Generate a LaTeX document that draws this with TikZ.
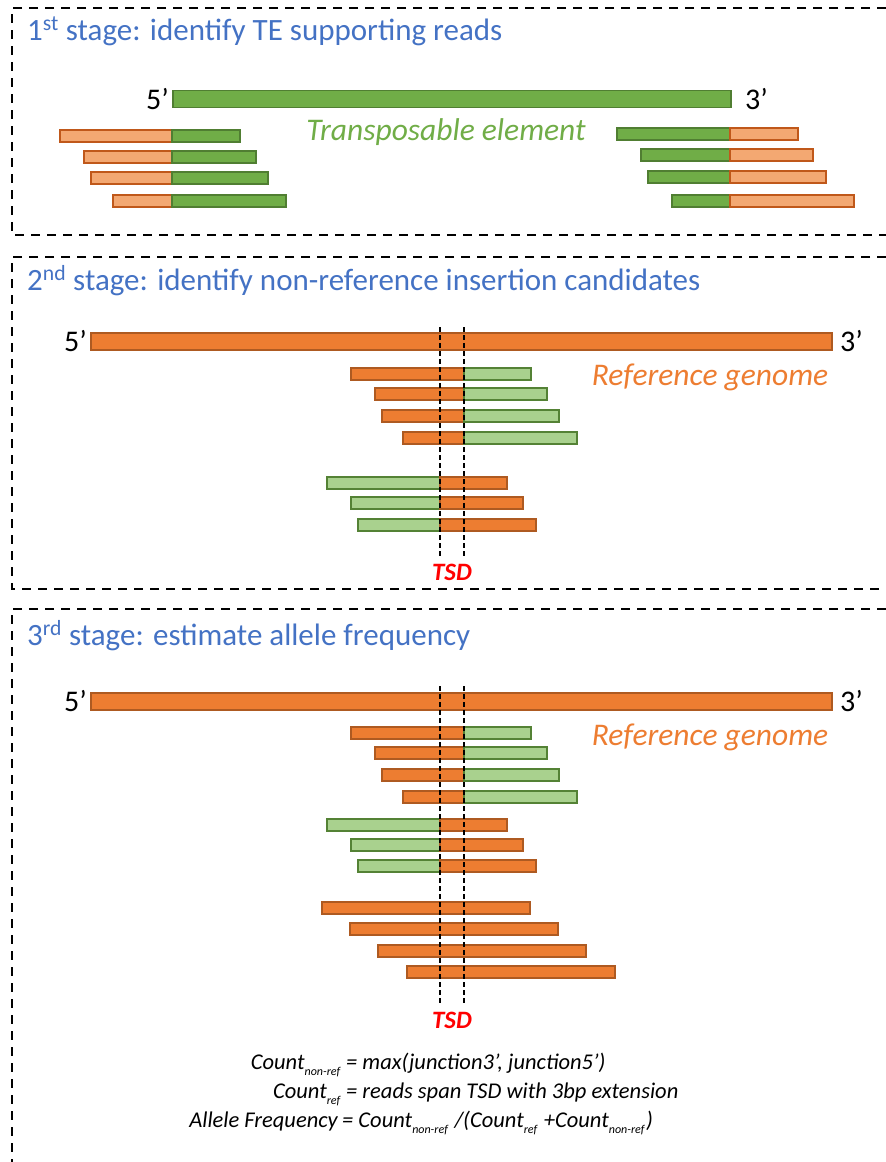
\documentclass[tikz,border=0pt]{standalone}
\usepackage{fontspec}
\setmainfont{Carlito}
\usetikzlibrary{positioning}
\definecolor{stageblue}{HTML}{4472C4}
\definecolor{tegreen}{HTML}{70AD47}
\definecolor{tedark}{HTML}{507E32}
\definecolor{telight}{HTML}{A9D18E}
\definecolor{telightdark}{HTML}{548235}
\definecolor{reforange}{HTML}{ED7D31}
\definecolor{refdark}{HTML}{AE5A21}
\definecolor{reflight}{HTML}{F3A872}
\definecolor{reflightdark}{HTML}{C0581A}
\newcommand{\lowsub}[1]{\raisebox{-0.3em}{\fontsize{12}{13}\selectfont #1}\kern1.5pt\relax}
\tikzset{
  panel/.style = {dash pattern = on 9pt off 7pt, line width = 1.9pt},
  te read/.style = {draw = tedark, fill = tegreen, line width = 1.3pt},
  light te read/.style = {draw = telightdark, fill = telight, line width = 1.3pt},
  ref read/.style = {draw = refdark, fill = reforange, line width = 1.3pt},
  light ref read/.style = {draw = reflightdark, fill = reflight, line width = 1.3pt},
  bar node/.style = {
    shape = rectangle,
    inner sep = 0pt,
    minimum height = 17pt},
  stage title/.style = {anchor = base west, inner sep = 0pt, text = stageblue, font = \fontsize{31}{36}\selectfont},
  end label/.style = {font = \fontsize{30}{34}\selectfont},
  bar label/.style = {anchor = base, inner sep = 0pt, font = \fontsize{31.5}{36}\selectfont\itshape},
  tsd line/.style = {dash pattern = on 5pt off 3pt, line width = 1.4pt},
  tsd label/.style = {anchor = base, inner sep = 0pt, text = red, font = \fontsize{25}{28}\selectfont\bfseries\itshape},
  formula/.style = {inner sep = 0pt, font = \fontsize{22.5}{26}\selectfont\itshape}
}

\begin{document}
\begin{tikzpicture}[x = 1pt, y = -1pt]
  \useasboundingbox (0,0) rectangle (886,1162);

  % panels
  \draw[panel] (886,8) -| (12,235) -- (886,235);
  \draw[panel] (886,257) -| (12,589) -- (886,589);
  \draw[panel] (886,609) -| (12,1170);

  \node[stage title] (stage one) at (27,40) {1\textsuperscript{st} stage: identify TE supporting reads};
  \node[stage title] (stage two) at (27,290) {2\textsuperscript{nd} stage: identify non-reference insertion candidates};
  \node[stage title] (stage three) at (27,645) {3\textsuperscript{rd} stage: estimate allele frequency};

  % 1st stage
  \node[bar node, te read, minimum width = 558pt] (te bar) at (452,99) {};
  \node[end label, left = 0pt of te bar] (te five) {5’};
  \node[end label, right = 10pt of te bar] (te three) {3’};
  \node[bar label, text = tegreen] (te name) at (446,140) {Transposable element};
  \foreach \xa/\xb/\y in {60/240/136, 84/256/157, 91/268/178, 113/286/201} {
    \draw[light ref read] (\xa,\y-6) rectangle (172,\y+6);
    \draw[te read] (172,\y-6) rectangle (\xb,\y+6);
  }
  \foreach \xa/\xb/\y in {617/798/134, 641/813/155, 648/826/177, 672/854/201} {
    \draw[te read] (\xa,\y-6) rectangle (730,\y+6);
    \draw[light ref read] (730,\y-6) rectangle (\xb,\y+6);
  }

  % 2nd stage
  \node[bar node, ref read, minimum width = 741pt] (ref bar two) at (461.5,341.5) {};
  \node[end label, left = 0pt of ref bar two] (ref two five) {5’};
  \node[end label, right = 4pt of ref bar two] (ref two three) {3’};
  \node[bar label, text = reforange] (ref two name) at (710,385) {Reference genome};
  \foreach \xa/\xb/\y in {351/531/374, 375/547/394, 382/559/416, 403/577/438} {
    \draw[ref read] (\xa,\y-6) rectangle (464,\y+6);
    \draw[light te read] (464,\y-6) rectangle (\xb,\y+6);
  }
  \foreach \xa/\xb/\y in {327/507/483, 351/523/503, 358/536/525} {
    \draw[light te read] (\xa,\y-6) rectangle (440,\y+6);
    \draw[ref read] (440,\y-6) rectangle (\xb,\y+6);
  }
  \foreach \x in {440,464}
    \draw[tsd line] (\x,327) -- (\x,557);
  \node[tsd label] (tsd two) at (452,580) {TSD};

  % 3rd stage
  \node[bar node, ref read, minimum width = 741pt] (ref bar three) at (461.5,701.5) {};
  \node[end label, left = 0pt of ref bar three] (ref three five) {5’};
  \node[end label, right = 4pt of ref bar three] (ref three three) {3’};
  \node[bar label, text = reforange] (ref three name) at (710,745) {Reference genome};
  \foreach \xa/\xb/\y in {351/531/733, 375/547/753, 382/559/775, 403/577/797} {
    \draw[ref read] (\xa,\y-6) rectangle (464,\y+6);
    \draw[light te read] (464,\y-6) rectangle (\xb,\y+6);
  }
  \foreach \xa/\xb/\y in {327/507/825, 351/523/845, 358/536/866} {
    \draw[light te read] (\xa,\y-6) rectangle (440,\y+6);
    \draw[ref read] (440,\y-6) rectangle (\xb,\y+6);
  }
  \foreach \xa/\xb/\y in {322/530/908, 350/558/929, 378/586/951, 407/615/972}
    \draw[ref read] (\xa,\y-6) rectangle (\xb,\y+6);
  \foreach \x in {440,464}
    \draw[tsd line] (\x,686) -- (\x,1005);
  \node[tsd label] (tsd three) at (452,1028) {TSD};

  \node[formula, anchor = base east] (nonref name) at (342,1069) {Count\lowsub{non-ref}};
  \node[formula, anchor = base west] (nonref def) at (346,1069) {= max(junction3’, junction5’)};
  \node[formula, anchor = base east] (ref name) at (342,1098) {Count\lowsub{ref}};
  \node[formula, anchor = base west] (ref def) at (346,1098) {= reads span TSD with 3bp extension};
  \node[formula, anchor = base east] (freq name) at (338,1127) {Allele Frequency};
  \node[formula, anchor = base west] (freq def) at (342,1127) {= Count\lowsub{non-ref} /(Count\lowsub{ref} +Count\lowsub{non-ref})};
\end{tikzpicture}
\end{document}
